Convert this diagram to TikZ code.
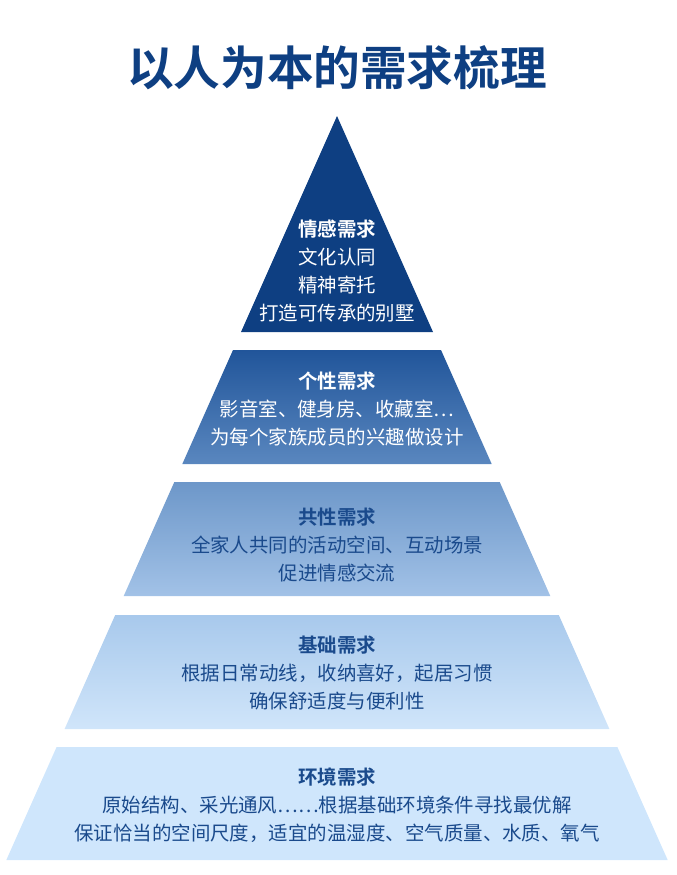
\documentclass[tikz,border=0pt]{standalone}
\usepackage{fontspec}
\setmainfont{Noto Sans CJK SC}[BoldFont={Noto Sans CJK SC Bold}]
\usepackage{tikz}

\definecolor{deepblue}{HTML}{0E3F82}
\definecolor{inkblue}{HTML}{1A4A8C}
\definecolor{tiertwotop}{HTML}{21559A}
\definecolor{tiertwobot}{HTML}{5A87BF}
\definecolor{tierthreetop}{HTML}{6D97C9}
\definecolor{tierthreebot}{HTML}{A2C2E7}
\definecolor{tierfourtop}{HTML}{A8C9EC}
\definecolor{tierfourbot}{HTML}{D0E5FA}
\definecolor{tierfive}{HTML}{CFE6FC}

\tikzset{
  needs light/.style={text=white, align=center, font=\fontsize{14.6}{21}\selectfont},
  needs dark/.style={text=inkblue, align=center, font=\fontsize{14.6}{21}\selectfont},
}

\begin{document}
\begin{tikzpicture}[x=0.75pt,y=-0.75pt]
      \useasboundingbox (0,0) rectangle (676,875);
      \node (title) at (337,68) {\fontsize{35}{40}\selectfont\bfseries\color{deepblue}以人为本的需求梳理};
      \fill [deepblue] (337,116) -- (433,332) -- (241,332) -- cycle;
      \shade [top color=tiertwotop, bottom color=tiertwobot]
            (233,350) -- (441,350) -- (491.7,464) -- (182.3,464) -- cycle;
      \shade [top color=tierthreetop, bottom color=tierthreebot]
            (174.3,482) -- (499.7,482) -- (550.3,596) -- (123.7,596) -- cycle;
      \shade [top color=tierfourtop, bottom color=tierfourbot]
            (115.2,615) -- (558.8,615) -- (609.4,729) -- (64.6,729) -- cycle;
      \fill [tierfive] (56.6,747) -- (617.4,747) -- (667.7,860) -- (6.3,860) -- cycle;
      \node [needs light] (emotion) at (337,271) {\textbf{情感需求}\\文化认同\\精神寄托\\打造可传承的别墅};
      \node [needs light] (personal) at (337,409) {\textbf{个性需求}\\影音室、健身房、收藏室…\\为每个家族成员的兴趣做设计};
      \node [needs dark] (shared) at (337,545) {\textbf{共性需求}\\全家人共同的活动空间、互动场景\\促进情感交流};
      \node [needs dark] (basic) at (337,673) {\textbf{基础需求}\\根据日常动线，收纳喜好，起居习惯\\确保舒适度与便利性};
      \node [needs dark] (environ) at (337,805) {\textbf{环境需求}\\原始结构、采光通风……根据基础环境条件寻找最优解\\保证恰当的空间尺度，适宜的温湿度、空气质量、水质、氧气};
    \end{tikzpicture}
\end{document}
